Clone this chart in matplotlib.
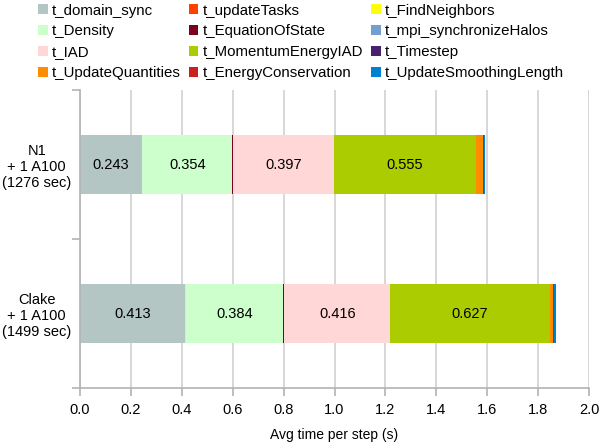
import matplotlib.pyplot as plt
import numpy as np

plt.rcParams['font.family'] = ['Liberation Sans', 'DejaVu Sans']

systems = ['N1\n+ 1 A100\n(1276 sec)', 'Clake\n+ 1 A100\n(1499 sec)']

# series in legend order (row by row)
series = ['t_domain_sync', 't_updateTasks', 't_FindNeighbors',
          't_Density', 't_EquationOfState', 't_mpi_synchronizeHalos',
          't_IAD', 't_MomentumEnergyIAD', 't_Timestep',
          't_UpdateQuantities', 't_EnergyConservation', 't_UpdateSmoothingLength']
colors = ['#b3c6c4', '#ff4000', '#ffff00',
          '#ccffcc', '#7b0020', '#729fcf',
          '#ffd7d7', '#aacc00', '#4b1f6f',
          '#ff8c00', '#c9211e', '#0080d0']

# values for N1, Clake
n1 = [0.243, 0.001, 0.001, 0.354, 0.003, 0.0, 0.397, 0.555, 0.003, 0.025, 0.004, 0.006]
clake = [0.413, 0.001, 0.001, 0.384, 0.004, 0.0, 0.416, 0.627, 0.002, 0.010, 0.003, 0.008]
label_min = 0.1

fig = plt.figure(figsize=(6, 4.44), dpi=100)
ax = fig.add_axes([0.133, 0.126, 0.849, 0.671])

ypos = [1, 0]
data = np.array([n1, clake])
left = np.zeros(2)
handles = []
for i, name in enumerate(series):
    vals = data[:, i]
    b = ax.barh(ypos, vals, left=left, height=0.4, color=colors[i], label=name, zorder=2)
    handles.append(b)
    for y, l, v in zip(ypos, left, vals):
        if v > label_min:
            ax.text(l + v / 2, y, '%.3f' % v, ha='center', va='center', fontsize=10.5, zorder=3)
    left += vals

ax.set_xlim(0, 2.0)
ax.set_ylim(-0.5, 1.5)
ax.set_xticks(np.arange(0, 2.01, 0.2))
ax.set_xticklabels(['%.1f' % t for t in np.arange(0, 2.01, 0.2)], fontsize=10.5)
ax.set_yticks([-0.5, 0.5, 1.5])
ax.set_yticklabels([])
ax.set_yticks(ypos, minor=True)
ax.set_yticklabels(systems, minor=True, fontsize=10.5, ha='center')
ax.tick_params(axis='y', which='minor', length=0, pad=31)
ax.tick_params(axis='both', which='major', color='#b3b3b3', direction='out', length=6, width=1.2)
ax.tick_params(axis='x', pad=5)
ax.grid(axis='x', color='#d4d4d4', linewidth=1.3, zorder=0)
for s in ['top', 'right']:
    ax.spines[s].set_visible(False)
for s in ['left', 'bottom']:
    ax.spines[s].set_color('#b3b3b3')
    ax.spines[s].set_linewidth(1.2)
ax.set_xlabel('Avg time per step (s)', fontsize=10, labelpad=8)

# legend is row-major, matplotlib fills columns first
order = [i for c in range(3) for i in range(c, 12, 3)]
fig.legend([handles[i] for i in order], [series[i] for i in order],
           loc='upper left', bbox_to_anchor=(0.063, 0.992), ncol=3, frameon=False,
           fontsize=10.8, handlelength=0.65, handleheight=0.65, handletextpad=0.27,
           columnspacing=0.55, labelspacing=0.45, borderpad=0, borderaxespad=0)

fig.savefig('out.png', dpi=100)
